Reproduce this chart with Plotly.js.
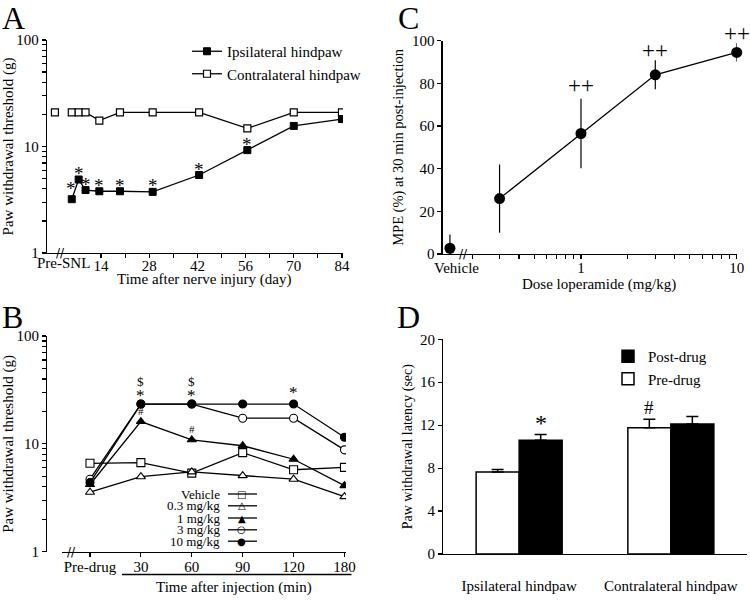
<!DOCTYPE html>
<html>
<head>
<meta charset="utf-8">
<script src="https://cdn.plot.ly/plotly-3.0.1.min.js"></script>
<style>html,body{margin:0;padding:0;background:#fff}#chart{width:750px;height:602px}</style>
</head>
<body>
<div id="chart"></div>
<script>
// ---------- Panel A data ----------
const daysA = [5.5, 7.5, 9.5, 13.5, 19.5, 29, 42.5, 56.5, 70, 84];
const ipsilateral = [3.2, 4.9, 3.9, 3.8, 3.8, 3.75, 5.4, 9.25, 15.6, 18.1];
const contralateral = [20.9, 20.9, 20.9, 17.5, 20.9, 20.9, 20.9, 14.8, 20.9, 20.9];
const preSnlDay = [0.6];
const preSnlContra = [20.9];
const starsA = [0, 1, 2, 3, 4, 5, 6, 7];          // indices of ipsilateral points marked *
const dayTicks = [14, 21, 28, 35, 42, 49, 56, 63, 70, 77, 84];
const dayTickText = ['14', '', '28', '', '42', '', '56', '', '70', '', '84'];

// ---------- Panel B data ----------
const timeCats = ['Pre-drug', '30', '60', '90', '120', '180'];
const vehicleB = [6.6, 6.7, 5.35, 8.3, 5.75, 6.05];
const dose03 = [3.56, 4.96, 5.5, 5.07, 4.7, 3.24];
const dose1 = [4.2, 16.1, 10.9, 9.6, 7.2, 4.1];
const dose3 = [4.7, 23.4, 23.4, 17.3, 17.3, 8.8];
const dose10 = [4.37, 23.4, 23.4, 23.4, 23.4, 11.5];
const bNames = ['Vehicle', '0.3 mg/kg', '1 mg/kg', '3 mg/kg', '10 mg/kg'];
const bGlyphs = ['\u25A1', '\u25B3', '\u25B2', '\u25CB', '\u25CF'];

// ---------- Panel C data ----------
const doses = [0.3, 1, 3, 10];
const mpe = [26, 56.5, 84, 94.5];
const mpeErr = [16, 16.3, 6.8, 4.3];
const vehicleDosePos = [0.144];
const vehicleMpe = [2.7];
const vehicleErrUp = [6.5];
const vehicleErrDown = [2.7];
const doseTicks = [0.2, 0.3, 0.4, 0.5, 0.6, 0.7, 0.8, 0.9, 1, 2, 3, 4, 5, 6, 7, 8, 9, 10];
const doseTickText = doseTicks.map(v => (v === 1 || v === 10) ? String(v) : '');

// ---------- Panel D data ----------
const sides = ['Ipsilateral hindpaw', 'Contralateral hindpaw'];
const preDrug = [7.65, 11.75];
const preDrugErr = [0.23, 0.8];
const postDrug = [10.6, 12.1];
const postDrugErr = [0.53, 0.7];

// ---------- helpers ----------
const W = 750, H = 602;
const px = v => v / W;
const py = v => 1 - v / H;
const SERIF = 'Liberation Serif, Times New Roman, serif';
const logTicks = [1, 2, 3, 4, 5, 6, 7, 8, 9, 10, 20, 30, 40, 50, 60, 70, 80, 90, 100];
const logTickText = logTicks.map(v => (v === 1 || v === 10 || v === 100) ? String(v) : '');
const LW = 1.3;

const traces = [];
// Panel A
traces.push({x: preSnlDay, y: preSnlContra, xaxis: 'x', yaxis: 'y', mode: 'markers', showlegend: false,
  marker: {symbol: 'square', size: 7, color: 'white', line: {color: 'black', width: 1.2}}});
traces.push({x: daysA, y: contralateral, xaxis: 'x', yaxis: 'y', mode: 'lines+markers', name: 'Contralateral hindpaw',
  legend: 'legend', legendrank: 2,
  line: {color: 'black', width: LW}, marker: {symbol: 'square', size: 7, color: 'white', line: {color: 'black', width: 1.2}}});
traces.push({x: daysA, y: ipsilateral, xaxis: 'x', yaxis: 'y', mode: 'lines+markers', name: 'Ipsilateral hindpaw',
  legend: 'legend', legendrank: 1,
  line: {color: 'black', width: LW}, marker: {symbol: 'square', size: 7, color: 'black', line: {color: 'black', width: 1}}});

// Panel B
const bSeries = [vehicleB, dose03, dose1, dose3, dose10];
const bSymbols = [['square', 'white'], ['triangle-up', 'white'], ['triangle-up', 'black'], ['circle', 'white'], ['circle', 'black']];
bSeries.forEach((s, i) => {
  traces.push({x: timeCats, y: s, xaxis: 'x2', yaxis: 'y2', mode: 'lines+markers', name: bNames[i], showlegend: false,
    line: {color: 'black', width: LW},
    marker: {symbol: bSymbols[i][0], size: 8, color: bSymbols[i][1], line: {color: 'black', width: 1.1}}});
});

// Panel C
traces.push({x: vehicleDosePos, y: vehicleMpe, xaxis: 'x3', yaxis: 'y3', mode: 'markers', showlegend: false, cliponaxis: false,
  marker: {symbol: 'circle', size: 11, color: 'black'},
  error_y: {type: 'data', symmetric: false, array: vehicleErrUp, arrayminus: vehicleErrDown, color: 'black', thickness: 1.2, width: 0}});
traces.push({x: doses, y: mpe, xaxis: 'x3', yaxis: 'y3', mode: 'lines+markers', showlegend: false, cliponaxis: false,
  line: {color: 'black', width: LW}, marker: {symbol: 'circle', size: 11, color: 'black'},
  error_y: {type: 'data', array: mpeErr, color: 'black', thickness: 1.2, width: 0}});

// Panel D
traces.push({type: 'bar', x: sides, y: preDrug, xaxis: 'x4', yaxis: 'y4', name: 'Pre-drug', legend: 'legend2', legendrank: 2,
  marker: {color: 'white', line: {color: 'black', width: 1.5}},
  error_y: {type: 'data', symmetric: false, array: preDrugErr, arrayminus: [0, 0], color: 'black', thickness: 1.5, width: 6}});
traces.push({type: 'bar', x: sides, y: postDrug, xaxis: 'x4', yaxis: 'y4', name: 'Post-drug', legend: 'legend2', legendrank: 1,
  marker: {color: 'black', line: {color: 'black', width: 1.5}},
  error_y: {type: 'data', symmetric: false, array: postDrugErr, arrayminus: [0, 0], color: 'black', thickness: 1.5, width: 6}});

const tickFont = {family: SERIF, size: 15, color: 'black'};
const titleFont = {family: SERIF, size: 15, color: 'black'};
const axBase = {showline: true, linecolor: 'black', linewidth: LW, ticks: 'outside', ticklen: 4, tickwidth: 1.2, tickcolor: 'black',
  showgrid: false, zeroline: false, tickfont: tickFont, fixedrange: true};

const annotations = [];
// panel letters
[['A', 13.5, 18], ['B', 12.5, 317], ['C', 408.5, 18], ['D', 408.5, 317]].forEach(([t, x, y]) => {
  annotations.push({text: t, xref: 'paper', yref: 'paper', x: px(x), y: py(y), xanchor: 'center', yanchor: 'middle',
    showarrow: false, font: {family: SERIF, size: 32, color: 'black'}});
});
// x-axis titles (placed as in the reference)
[['Time after nerve injury (day)', 204, 280], ['Time after injection (min)', 234, 587], ['Dose loperamide (mg/kg)', 599, 284]].forEach(([t, x, y]) => {
  annotations.push({text: t, xref: 'paper', yref: 'paper', x: px(x), y: py(y), xanchor: 'center', yanchor: 'middle',
    showarrow: false, font: titleFont});
});
// axis break marks
[[60, 253], [71.5, 551.7], [463.5, 254]].forEach(([x, y]) => {
  annotations.push({text: '//', xref: 'paper', yref: 'paper', x: px(x), y: py(y), xanchor: 'center', yanchor: 'middle',
    showarrow: false, font: {family: 'DejaVu Sans', size: 12, color: 'black'}});
});
// Panel A stars
starsA.forEach((i, k) => {
  annotations.push({text: '*', xref: 'x', yref: 'y', x: daysA[i], y: Math.log10(ipsilateral[i]), showarrow: false,
    xanchor: 'center', yanchor: 'middle', yshift: k === 0 ? 11 : 6, xshift: k === 0 ? -1 : 0,
    font: {family: SERIF, size: 19, color: 'black'}});
});
annotations.push({text: 'Pre-SNL', xref: 'paper', yref: 'paper', x: px(63), y: py(263), xanchor: 'center', yanchor: 'middle',
  showarrow: false, font: tickFont});

// Panel B significance marks (x given as category index)
[[1, dose10, '*', 17, 9], [2, dose10, '*', 17, 9], [4, dose10, '*', 17, 12],
 [1, dose10, '$', 13, 23], [2, dose10, '$', 13, 23],
 [1, dose1, '#', 11, 11], [2, dose1, '#', 11, 11]].forEach(([i, s, t, fs, ys]) => {
  annotations.push({text: t, xref: 'x2', yref: 'y2', x: i, y: Math.log10(s[i]), showarrow: false,
    xanchor: 'center', yanchor: 'middle', yshift: ys, font: {family: SERIF, size: fs, color: 'black'}});
});
// Panel B custom legend (text left of symbol)
const bRows = [494, 505.8, 518, 529.8, 541.2];
const shapes = [];
bNames.forEach((n, i) => {
  annotations.push({text: n, xref: 'paper', yref: 'paper', x: px(222), y: py(bRows[i]), xanchor: 'right', yanchor: 'middle',
    showarrow: false, font: {family: SERIF, size: 13, color: 'black'}});
  shapes.push({type: 'line', xref: 'paper', yref: 'paper', x0: px(228), x1: px(257), y0: py(bRows[i]), y1: py(bRows[i]),
    line: {color: 'black', width: LW}});
  annotations.push({text: bGlyphs[i], xref: 'paper', yref: 'paper', x: px(241.5), y: py(bRows[i]), xanchor: 'center', yanchor: 'middle',
    showarrow: false, font: {family: 'DejaVu Sans', size: 10, color: 'black'}});
});
// underline under post-injection times
shapes.push({type: 'line', xref: 'paper', yref: 'paper', x0: px(122), x1: px(351.5), y0: py(574.5), y1: py(574.5),
  line: {color: 'black', width: LW}});

// Panel C
doses.forEach((d, i) => {
  if (i === 0) return;
  annotations.push({text: '++', xref: 'x3', yref: 'y3', x: Math.log10(d), y: mpe[i] + mpeErr[i], showarrow: false,
    xanchor: 'center', yanchor: 'middle', yshift: i === 1 ? 13 : 10, font: {family: SERIF, size: 23, color: 'black'}});
});
annotations.push({text: 'Vehicle', xref: 'paper', yref: 'paper', x: px(457), y: py(268), xanchor: 'center', yanchor: 'middle',
  showarrow: false, font: tickFont});

// Panel D
annotations.push({text: '*', xref: 'x4', yref: 'y4', x: 0, y: postDrug[0] + postDrugErr[0], xshift: 22, yshift: 12,
  showarrow: false, xanchor: 'center', yanchor: 'middle', font: {family: SERIF, size: 24, color: 'black'}});
annotations.push({text: '#', xref: 'x4', yref: 'y4', x: 1, y: preDrug[1] + preDrugErr[1], xshift: -22, yshift: 12,
  showarrow: false, xanchor: 'center', yanchor: 'middle', font: {family: SERIF, size: 19, color: 'black'}});

const layout = {
  width: W, height: H, margin: {l: 0, r: 0, t: 0, b: 0}, paper_bgcolor: 'white', plot_bgcolor: 'rgba(0,0,0,0)',
  font: {family: SERIF, color: 'black'},
  barmode: 'group', bargap: 0.433, bargroupgap: 0,
  xaxis: Object.assign({}, axBase, {domain: [px(47), px(343)], anchor: 'y', range: [-1.7, 84.3],
    tickmode: 'array', tickvals: dayTicks, ticktext: dayTickText, ticklabelstandoff: -5}),
  yaxis: Object.assign({}, axBase, {domain: [py(253), py(40)], anchor: 'x', type: 'log', range: [0, 2],
    tickmode: 'array', tickvals: logTicks, ticktext: logTickText,
    title: {text: 'Paw withdrawal threshold (g)', font: titleFont, standoff: 4}}),
  xaxis2: Object.assign({}, axBase, {domain: [px(62), px(346)], anchor: 'y2', type: 'category', range: [-0.55, 5.03],
    ticklabelstandoff: -3}),
  yaxis2: Object.assign({}, axBase, {domain: [py(551.7), py(336)], anchor: 'free', position: px(46), type: 'log', range: [0, 2],
    tickmode: 'array', tickvals: logTicks, ticktext: logTickText,
    title: {text: 'Paw withdrawal threshold (g)', font: titleFont, standoff: 4}}),
  xaxis3: Object.assign({}, axBase, {domain: [px(442.7), px(736.7)], anchor: 'y3', type: 'log', range: [Math.log10(0.1294), 1],
    tickmode: 'array', tickvals: doseTicks, ticktext: doseTickText, ticklabelstandoff: -4}),
  yaxis3: Object.assign({}, axBase, {domain: [py(254), py(40.7)], anchor: 'x3', range: [0, 100], dtick: 20, tick0: 0,
    title: {text: 'MPE (%) at 30 min post-injection', font: {family: SERIF, size: 14.5, color: 'black'}, standoff: 4}}),
  xaxis4: Object.assign({}, axBase, {domain: [px(443.3), px(746.7)], anchor: 'y4', type: 'category', ticks: '', ticklabelstandoff: 18}),
  yaxis4: Object.assign({}, axBase, {domain: [py(554), py(339.3)], anchor: 'x4', range: [0, 20], dtick: 4, tick0: 0,
    title: {text: 'Paw withdrawal latency (sec)', font: {family: SERIF, size: 14, color: 'black'}, standoff: 4}}),
  legend: {x: px(187), y: py(35), xanchor: 'left', yanchor: 'top', bgcolor: 'rgba(0,0,0,0)',
    font: {family: SERIF, size: 15, color: 'black'}, traceorder: 'normal'},
  legend2: {x: px(608), y: py(340), xanchor: 'left', yanchor: 'top', bgcolor: 'rgba(0,0,0,0)',
    font: {family: SERIF, size: 15, color: 'black'}, traceorder: 'normal'},
  annotations: annotations,
  shapes: shapes,
  showlegend: true
};

Plotly.newPlot('chart', traces, layout, {staticPlot: true, displayModeBar: false});
</script>
</body>
</html>
